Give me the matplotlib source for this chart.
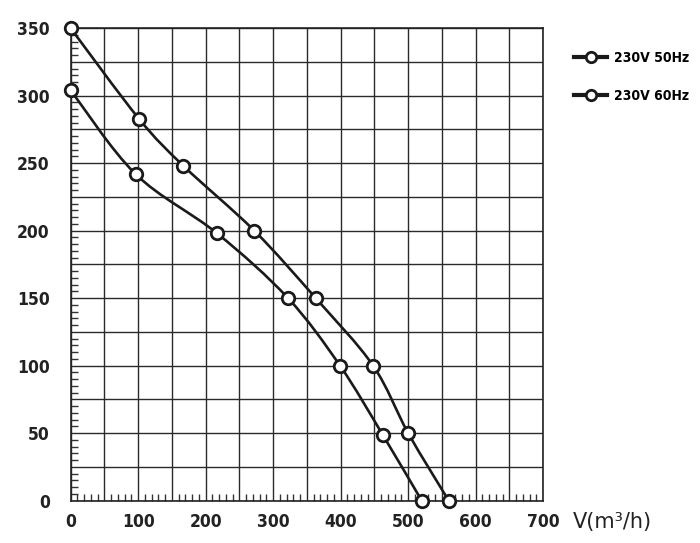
import numpy as np
import matplotlib
matplotlib.use("Agg")
from matplotlib import pyplot as plt
from matplotlib.path import Path
from matplotlib.patches import PathPatch
from matplotlib.ticker import MultipleLocator, FuncFormatter
from matplotlib.font_manager import FontProperties

# airflow (m3/h) and pressure readings for the two supplies
series_names = ["230V 50Hz", "230V 60Hz"]
flow_50 = [0, 96, 217, 322, 399, 462, 520]
pres_50 = [304, 242, 198, 150, 100, 49, 0]
flow_60 = [0, 101, 167, 272, 363, 448, 500, 560]
pres_60 = [350, 283, 248, 200, 150, 100, 50, 0]


def smooth_path(xs, ys):
    # catmull-rom through the points, turned into bezier segments
    pts = np.column_stack([xs, ys]).astype(float)
    verts = [pts[0]]
    codes = [Path.MOVETO]
    for i in range(len(pts) - 1):
        p0 = pts[i - 1] if i > 0 else pts[i]
        p1, p2 = pts[i], pts[i + 1]
        p3 = pts[i + 2] if i + 2 < len(pts) else pts[i + 1]
        verts += [p1 + (p2 - p0) / 6, p2 - (p3 - p1) / 6, p2]
        codes += [Path.CURVE4] * 3
    return Path(verts, codes)


fig = plt.figure(figsize=(7, 5.43), dpi=100)
ax = fig.add_axes([0.101, 0.078, 0.675, 0.870])

ink = "#1a1a1a"
for xs, ys, name in [(flow_50, pres_50, series_names[0]), (flow_60, pres_60, series_names[1])]:
    ax.add_patch(PathPatch(smooth_path(xs, ys), fill=False, lw=1.9, ec=ink, zorder=3))
    ax.plot(xs, ys, ls="none", marker="o", ms=9, mfc="white", mec=ink, mew=2.0, zorder=4, clip_on=False)
    ax.plot([], [], color=ink, lw=3.0, marker="o", ms=7.5, mfc="white", mec=ink, mew=2.0, label=name)

ax.set_xlim(0, 700)
ax.set_ylim(0, 350)

ax.xaxis.set_major_locator(MultipleLocator(50))
ax.xaxis.set_minor_locator(MultipleLocator(10))
ax.yaxis.set_major_locator(MultipleLocator(25))
ax.yaxis.set_minor_locator(MultipleLocator(5))
ax.xaxis.set_major_formatter(FuncFormatter(lambda v, p: f"{v:.0f}" if v % 100 == 0 else ""))
ax.yaxis.set_major_formatter(FuncFormatter(lambda v, p: f"{v:.0f}" if v % 50 == 0 else ""))

tick_font = FontProperties(family="DejaVu Sans", stretch="condensed", weight="bold", size=12.5)
for lab in ax.get_xticklabels() + ax.get_yticklabels():
    lab.set_fontproperties(tick_font)
    lab.set_color("#222222")

ax.tick_params(which="major", length=0)
ax.tick_params(axis="x", which="major", pad=9)
ax.tick_params(axis="y", which="major", pad=15)
ax.tick_params(which="minor", direction="in", length=5, width=1, color="#333333")
ax.tick_params(axis="x", which="minor", top=False)
ax.tick_params(axis="y", which="minor", right=False)

ax.grid(True, which="major", color="#2a2a2a", lw=1.0)
ax.set_axisbelow(True)
for sp in ax.spines.values():
    sp.set_color("#222222")
    sp.set_linewidth(1.2)

fig.text(0.818, 0.028, "V(m³/h)", fontsize=15, family="DejaVu Sans", color="#222222")

leg = fig.legend(loc="upper left", bbox_to_anchor=(0.802, 0.93), frameon=False,
                 handlelength=2.4, handletextpad=0.5, labelspacing=1.75,
                 prop=FontProperties(family="DejaVu Sans", stretch="condensed", weight="bold", size=10))

fig.savefig("out.png", dpi=100)
